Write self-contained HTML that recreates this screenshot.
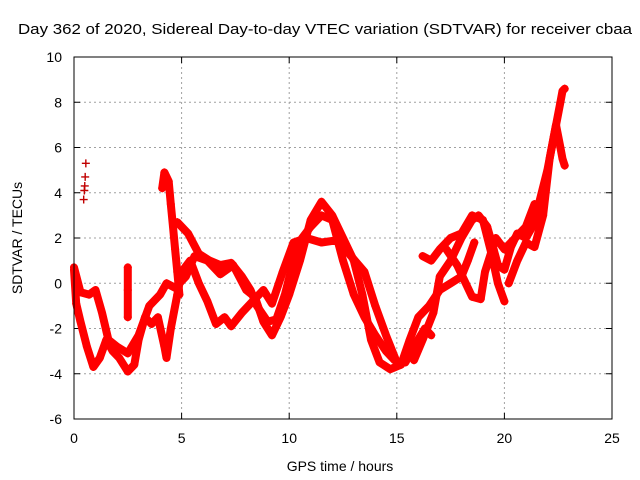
<!DOCTYPE html>
<html><head><meta charset="utf-8"><style>
body{margin:0;background:#fff;}
svg{display:block;font-family:"Liberation Sans",sans-serif;}
</style></head><body>
<svg id="chart" width="640" height="480" viewBox="0 0 640 480">
<text x="18" y="34" font-size="15" textLength="614" lengthAdjust="spacingAndGlyphs">Day 362 of 2020, Sidereal Day-to-day VTEC variation (SDTVAR) for receiver cbaa</text>
<text x="340" y="471" font-size="14" text-anchor="middle">GPS time / hours</text>
<text transform="translate(22,238) rotate(-90)" font-size="14" text-anchor="middle">SDTVAR / TECUs</text>
<g id="grid"></g>
<g id="axes"></g>
<g id="marks"></g>
<rect x="74" y="57" width="538" height="362" fill="none" stroke="#000" stroke-width="1"/>
</svg>
<script>
const xTicks=[0,5,10,15,20,25];
const yTicks=[-6,-4,-2,0,2,4,6,8,10];
const series1=[[0,0.6],[0.1,-0.9],[0.3,-1.7],[0.6,-2.8],[0.9,-3.7],[1.2,-3.3],[1.5,-2.5],[1.8,-3.0],[2.1,-3.3],[2.5,-3.9],[2.8,-3.6],[3.0,-2.5],[3.3,-1.5],[3.6,-1.8],[3.9,-1.5],[4.2,-2.8],[4.3,-3.3],[4.5,-2.0],[4.8,-0.5],[5.0,0.5],[5.4,1.0],[5.8,0.0],[6.2,-0.8],[6.6,-1.8],[7.0,-1.5],[7.3,-1.9],[7.8,-1.3],[8.3,-0.8],[8.8,-0.3],[9.2,-0.9],[9.7,0.5],[10.2,1.8],[10.8,2.0],[11.5,1.8],[12.2,1.9],[12.6,1.5],[13.5,0.5],[14.0,-1.0],[14.5,-2.3],[15.0,-3.5],[15.4,-3.5],[15.8,-2.8],[16.3,-2.0],[16.6,-2.3]];
const series2=[[0,0.7],[0.3,-0.4],[0.7,-0.5],[1.0,-0.3],[1.3,-1.3],[1.6,-2.5],[2.0,-2.8],[2.5,-3.1],[3.0,-2.3],[3.5,-1.0],[4.0,-0.5],[4.3,0.0],[4.7,-0.2],[5.2,0.3],[5.6,1.2],[6.2,1.0],[6.8,0.4],[7.4,0.8],[8.0,-0.3],[8.4,-0.6],[8.8,-1.7],[9.2,-2.3],[9.6,-1.5],[10.0,-0.5],[10.5,1.0],[11.0,2.8],[11.5,3.6],[12.0,3.0],[12.5,2.0],[13.0,1.0],[13.4,-0.5],[13.8,-2.5],[14.2,-3.5],[14.7,-3.8],[15.2,-3.6],[15.6,-2.5],[16.0,-1.5],[16.5,-1.0],[17.0,-0.3],[17.5,0.0],[18.0,0.3],[18.3,1.0],[18.6,1.8]];
const series3=[[4.8,2.7],[5.3,2.2],[5.8,1.3],[6.3,1.0],[6.8,0.8],[7.3,0.9],[7.8,0.3],[8.2,-0.3],[8.5,-1.0],[9.0,-1.7],[9.4,-1.6],[9.8,-0.5],[10.2,1.0],[10.6,2.0],[11.0,2.5],[11.5,3.0],[12.0,2.8],[12.5,1.0],[13.0,-0.5],[13.5,-1.5],[14.0,-2.3],[14.5,-3.0],[14.9,-3.4]];
const series4=[[15.8,-3.4],[16.2,-2.5],[16.7,-1.3],[17.0,0.3],[17.5,1.0],[18.0,2.0],[18.5,2.8],[18.8,3.0],[19.2,2.5],[19.5,1.5],[19.7,0.8],[20.0,0.6],[20.3,1.6],[20.6,2.2],[21.0,2.0],[21.3,2.5],[21.6,3.5],[22.0,5.0],[22.3,6.5],[22.6,8.0],[22.7,8.5],[22.8,8.6]];
const series5=[[16.2,1.2],[16.6,1.0],[17.0,1.5],[17.5,2.0],[18.0,2.2],[18.5,3.0],[19.0,2.8],[19.4,1.3],[19.7,0.0],[20.0,-0.8]];
const series6=[[17.3,1.5],[17.8,0.8],[18.2,0.0],[18.5,-0.6],[18.9,-0.7],[19.1,0.5],[19.6,2.0],[20.0,1.5],[20.5,2.0],[21.0,2.5],[21.4,3.5]];
const series7=[[20.2,0.0],[20.6,1.0],[21.0,1.8],[21.4,1.6],[21.8,3.0],[22.1,5.5],[22.4,7.0],[22.6,6.0],[22.7,5.5],[22.8,5.2]];
const series8=[[4.1,4.2],[4.2,4.9],[4.4,4.5],[4.5,3.5],[4.6,2.5],[4.7,1.5],[4.8,0.5],[4.9,-0.5]];
const series9=[[2.5,0.7],[2.5,-0.3],[2.5,-1.5]];
const sparse1=[[0.45,3.7],[0.48,4.1],[0.5,4.3],[0.52,4.7],[0.55,5.3]];
const allSeries=[series1,series2,series3,series4,series5,series6,series7,series8,series9];
const NS='http://www.w3.org/2000/svg';
const X0=74,X1=612,Y0=419,Y1=57;
function xs(v){return X0+(v-0)/(25-0)*(X1-X0);}
function ys(v){return Y0-(v+6)/(16)*(Y0-Y1);}
const grid=document.getElementById('grid'),axes=document.getElementById('axes'),marks=document.getElementById('marks');
function mk(tag,attrs,parent){const e=document.createElementNS(NS,tag);for(const k in attrs)e.setAttribute(k,attrs[k]);parent.appendChild(e);return e;}
xTicks.forEach(t=>{const x=xs(t);
 if(t>0&&t<25){const g=mk('line',{x1:x,x2:x,y1:Y1,y2:Y0,stroke:'#a0a0a0','stroke-dasharray':'2,3'},grid);}
 const tk=mk('path',{d:`M${x},${Y0}v-6M${x},${Y1}v6`,stroke:'#000'},axes);
 const l=mk('text',{x:x,y:443,'font-size':'14','text-anchor':'middle'},axes);l.textContent=t;});
yTicks.forEach(t=>{const y=ys(t);
 if(t>-6&&t<10){const g=mk('line',{x1:X0,x2:X1,y1:y,y2:y,stroke:'#a0a0a0','stroke-dasharray':'2,3'},grid);}
 const tk=mk('path',{d:`M${X0},${y}h6M${X1},${y}h-6`,stroke:'#000'},axes);
 const l=mk('text',{x:62,y:y+5,'font-size':'14','text-anchor':'end'},axes);l.textContent=t;});
function cross(x,y,c){const p=mk('path',{d:`M${x-4},${y}h8M${x},${y-4}v8`,stroke:c,'stroke-width':'1.4'},marks);}
allSeries.forEach(s=>{
 const d=s.map((p,i)=>(i?'L':'M')+xs(p[0]).toFixed(1)+','+ys(p[1]).toFixed(1)).join('');
 const pl=mk('path',{d:d,fill:'none',stroke:'#ff0000','stroke-width':'8','stroke-linejoin':'round','stroke-linecap':'round'},marks);
 
 
 s.forEach(p=>cross(xs(p[0]),ys(p[1]),'#ff0000'));
});
sparse1.forEach(p=>cross(xs(p[0]),ys(p[1]),'#c00000'));
</script>
</body></html>
